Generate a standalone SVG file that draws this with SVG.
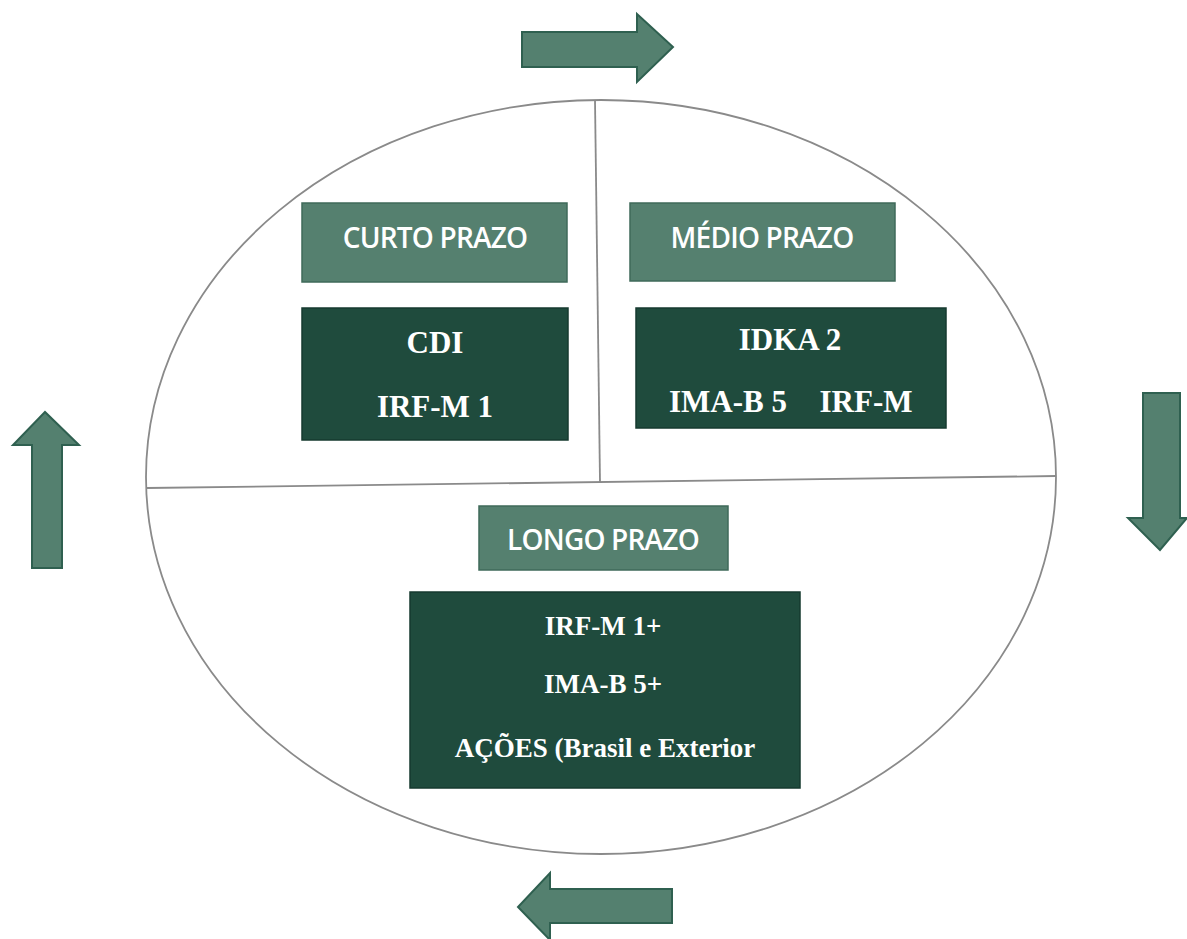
<svg xmlns="http://www.w3.org/2000/svg" width="1187" height="939" viewBox="0 0 1187 939">
<style>
.hdr{fill:#55806f;stroke:#3f6a5a;stroke-width:1.5}
.box{fill:#1f4b3d;stroke:#163a2f;stroke-width:1.5}
.arr{fill:#54806f;stroke:#2f6050;stroke-width:2}
.ht{font-family:"Open Sans","Liberation Sans",sans-serif;font-size:28px;font-weight:600;letter-spacing:-0.8px;fill:#ffffff;text-anchor:middle}
.bt{font-family:"Liberation Serif",serif;font-weight:bold;font-size:31px;fill:#ffffff;text-anchor:middle}
.bt2{font-family:"Liberation Serif",serif;font-weight:bold;font-size:27px;fill:#ffffff;text-anchor:middle}
.ln{fill:none;stroke:#8a8a8a;stroke-width:1.8}
</style>
<rect width="1187" height="939" fill="#ffffff"/>
<g id="cycle">
<ellipse class="ln" cx="601" cy="477" rx="455" ry="377"/>
<line class="ln" x1="595" y1="100" x2="600" y2="482"/>
<line class="ln" x1="147" y1="488" x2="1056" y2="476"/>
</g>
<g id="connectors">
<polygon class="arr" points="522,32 637,32 637,14 673,47 637,82 637,67 522,67"/>
<polygon class="arr" points="1143,393 1180,393 1180,518 1187,518 1160,550 1128,518 1143,518"/>
<polygon class="arr" points="672,889 672,923 550,923 550,940 518,907 550,873 550,889"/>
<polygon class="arr" points="62,568 32,568 32,445 13,445 45,412 79,445 62,445"/>
</g>
<g id="curto-header">
<rect class="hdr" x="302" y="203" width="265" height="79"/>
<text class="ht" x="435" y="248">CURTO PRAZO</text>
</g>
<g id="curto-box">
<rect class="box" x="302" y="308" width="266" height="132"/>
<text class="bt" x="435" y="353">CDI</text>
<text class="bt" x="435" y="417">IRF-M 1</text>
</g>
<g id="medio-header">
<rect class="hdr" x="630" y="203" width="265" height="78"/>
<text class="ht" x="762" y="248">MÉDIO PRAZO</text>
</g>
<g id="medio-box">
<rect class="box" x="636" y="308" width="310" height="120"/>
<text class="bt" x="790" y="350">IDKA 2</text>
<text class="bt" x="728" y="412">IMA-B 5</text>
<text class="bt" x="866" y="412">IRF-M</text>
</g>
<g id="longo-header">
<rect class="hdr" x="479" y="506" width="249" height="64"/>
<text class="ht" x="603" y="550">LONGO PRAZO</text>
</g>
<g id="longo-box">
<rect class="box" x="410" y="592" width="390" height="196"/>
<text class="bt2" x="603" y="635">IRF-M 1+</text>
<text class="bt2" x="603" y="693">IMA-B 5+</text>
<text class="bt2" x="605" y="757">AÇÕES (Brasil e Exterior</text>
</g>
</svg>
